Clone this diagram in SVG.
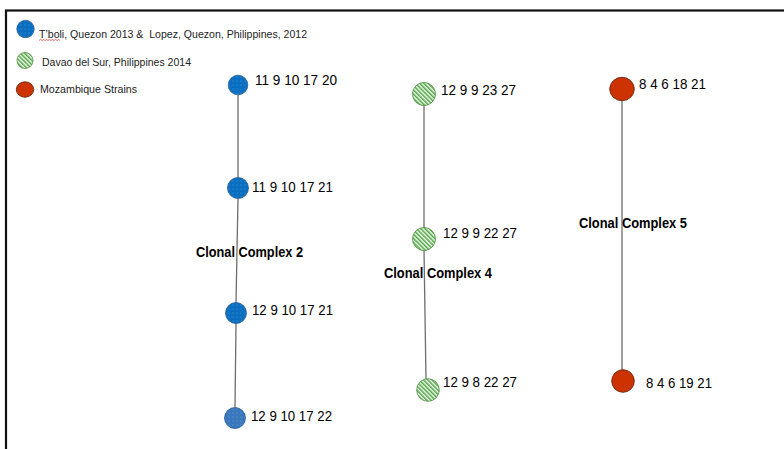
<svg xmlns="http://www.w3.org/2000/svg" width="784" height="449" viewBox="0 0 784 449">
  <defs>
    <!-- fine white dots on blue -->
    <pattern id="dots" width="4" height="4" patternUnits="userSpaceOnUse">
      <rect width="4" height="4" fill="#0b6fc1"/>
      <circle cx="1" cy="1" r="0.45" fill="#ffffff" fill-opacity="0.5"/>
    </pattern>
    <pattern id="dotsLight" width="4" height="4" patternUnits="userSpaceOnUse">
      <rect width="4" height="4" fill="#3a78bd"/>
      <circle cx="1" cy="1" r="0.45" fill="#ffffff" fill-opacity="0.5"/>
    </pattern>
    <!-- diagonal green hatch -->
    <pattern id="hatch" width="3" height="3" patternUnits="userSpaceOnUse" patternTransform="rotate(-45)">
      <rect width="3" height="3" fill="#ffffff"/>
      <rect width="1.6" height="3" fill="#4fa843"/>
    </pattern>
    <style>
      .frame { fill: none; stroke: #111111; stroke-width: 2.2; }
      .edge { stroke: #6e6e6e; stroke-width: 1.3; fill: none; }
      .blue { fill: url(#dots); stroke: #2a5f96; stroke-width: 0.8; }
      .blue2 { fill: url(#dotsLight); stroke: #2a5f96; stroke-width: 0.8; }
      .green { fill: url(#hatch); stroke: #4d8c40; stroke-width: 0.8; }
      .red { fill: #cc3300; stroke: #6a2a14; stroke-width: 0.9; }
      .lbl { font-family: "Liberation Sans", Arial, sans-serif; font-size: 14.5px; fill: #000000; }
      .cc { font-family: "Liberation Sans", Arial, sans-serif; font-size: 14.5px; font-weight: bold; fill: #000000; }
      .leg { font-family: "Liberation Sans", Arial, sans-serif; font-size: 11.5px; fill: #222222; }
    </style>
  </defs>

  <rect width="784" height="449" fill="#ffffff"/>
  <!-- outer frame, open to the right and bottom -->
  <rect class="frame" x="6" y="10.5" width="800" height="460"/>

  <!-- legend -->
  <g id="legend">
    <circle class="blue" cx="25.5" cy="29" r="8.7"/>
    <text class="leg" x="39" y="38" textLength="268" lengthAdjust="spacingAndGlyphs" xml:space="preserve">T’boli, Quezon 2013 &amp;  Lopez, Quezon, Philippines, 2012</text>
    <path d="M39 40.5 l1.5 -1 l1.5 1 l1.5 -1 l1.5 1 l1.5 -1 l1.5 1 l1.5 -1 l1.5 1 l1.5 -1 l1.5 1 l1.5 -1 l1.5 1 l1.5 -1 l1.5 1" fill="none" stroke="#e03030" stroke-width="0.7"/>
    <circle class="green" cx="25" cy="60.5" r="8"/>
    <text class="leg" x="42" y="66" textLength="149" lengthAdjust="spacingAndGlyphs">Davao del Sur, Philippines 2014</text>
    <ellipse class="red" cx="25" cy="89.5" rx="8.7" ry="7.7"/>
    <text class="leg" x="40" y="93" textLength="97" lengthAdjust="spacingAndGlyphs">Mozambique Strains</text>
  </g>

  <!-- connectors -->
  <g id="connectors">
    <line class="edge" x1="238" y1="95" x2="238" y2="178"/>
    <line class="edge" x1="238" y1="198" x2="236" y2="303"/>
    <line class="edge" x1="236" y1="323" x2="235" y2="408"/>
    <line class="edge" x1="424" y1="105" x2="424" y2="228"/>
    <line class="edge" x1="424" y1="250" x2="426" y2="379"/>
    <line class="edge" x1="622" y1="100" x2="622" y2="370"/>
  </g>

  <!-- clonal complex 2 -->
  <g id="n-11-9-10-17-20">
    <circle class="blue" cx="238" cy="85" r="9.8"/>
    <text class="lbl" x="255" y="85" textLength="82" lengthAdjust="spacingAndGlyphs">11 9 10 17 20</text>
  </g>
  <g id="n-11-9-10-17-21">
    <circle class="blue" cx="238" cy="188" r="10.5"/>
    <text class="lbl" x="252" y="192" textLength="81" lengthAdjust="spacingAndGlyphs">11 9 10 17 21</text>
  </g>
  <g id="n-12-9-10-17-21">
    <circle class="blue" cx="236" cy="313" r="10.5"/>
    <text class="lbl" x="252" y="315" textLength="81" lengthAdjust="spacingAndGlyphs">12 9 10 17 21</text>
  </g>
  <g id="n-12-9-10-17-22">
    <circle class="blue2" cx="235" cy="418" r="10.5"/>
    <text class="lbl" x="251" y="421" textLength="81" lengthAdjust="spacingAndGlyphs">12 9 10 17 22</text>
  </g>
  <text id="cc2" class="cc" x="196" y="257" textLength="107" lengthAdjust="spacingAndGlyphs">Clonal Complex 2</text>

  <!-- clonal complex 4 -->
  <g id="n-12-9-9-23-27">
    <circle class="green" cx="424" cy="94" r="11.5"/>
    <text class="lbl" x="441" y="95" textLength="75" lengthAdjust="spacingAndGlyphs">12 9 9 23 27</text>
  </g>
  <g id="n-12-9-9-22-27">
    <circle class="green" cx="424" cy="239" r="11.5"/>
    <text class="lbl" x="443" y="238" textLength="74" lengthAdjust="spacingAndGlyphs">12 9 9 22 27</text>
  </g>
  <g id="n-12-9-8-22-27">
    <circle class="green" cx="428" cy="390" r="11.3"/>
    <text class="lbl" x="443" y="387" textLength="74" lengthAdjust="spacingAndGlyphs">12 9 8 22 27</text>
  </g>
  <text id="cc4" class="cc" x="384" y="278" textLength="108" lengthAdjust="spacingAndGlyphs">Clonal Complex 4</text>

  <!-- clonal complex 5 -->
  <g id="n-8-4-6-18-21">
    <ellipse class="red" cx="622" cy="89" rx="12.3" ry="11.7"/>
    <text class="lbl" x="639" y="89" textLength="67" lengthAdjust="spacingAndGlyphs">8 4 6 18 21</text>
  </g>
  <g id="n-8-4-6-19-21">
    <circle class="red" cx="623" cy="381" r="11.3"/>
    <text class="lbl" x="646" y="388" textLength="66" lengthAdjust="spacingAndGlyphs">8 4 6 19 21</text>
  </g>
  <text id="cc5" class="cc" x="579" y="228" textLength="108" lengthAdjust="spacingAndGlyphs">Clonal Complex 5</text>
</svg>
